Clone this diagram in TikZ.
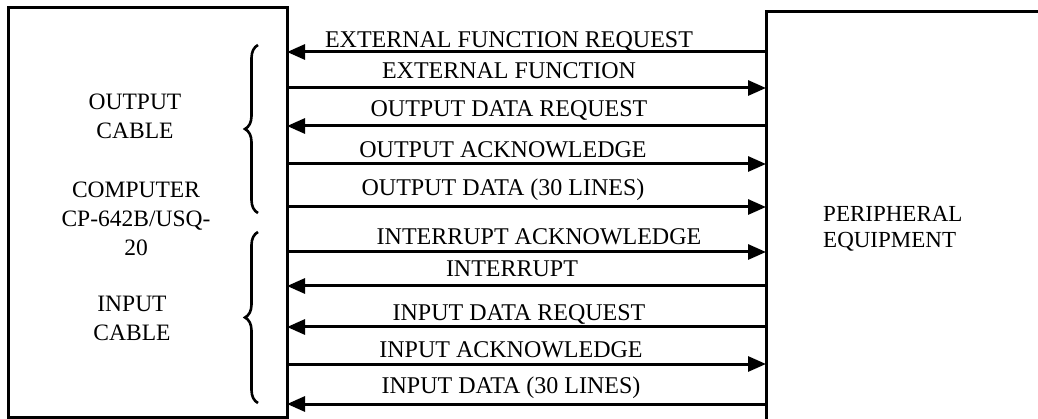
\documentclass[tikz,border=0pt]{standalone}
\usepackage{fontspec}
\setmainfont{Liberation Serif}
\usetikzlibrary{arrows.meta,decorations.pathreplacing}
\begin{document}
\begin{tikzpicture}[x=1pt,y=-1pt,
  box/.style={draw,line width=3pt,outer sep=0pt,inner sep=0pt,anchor=north west},
  sig/.style={line width=3pt},
  tip/.style={-{Triangle[length=18pt,width=15pt]}},
  lbl/.style={font=\fontsize{24}{28}\selectfont,anchor=base,inner sep=0pt},
  txt/.style={font=\fontsize{23.5}{29}\selectfont,align=center,inner sep=0pt},
  cbrace/.style={line width=2.6pt,decorate,decoration={brace,amplitude=13pt}}]
\useasboundingbox (0,0) rectangle (1038,419);
\clip (0,0) rectangle (1038,419);
% boxes
\node[box,minimum width=279pt,minimum height=409pt] (comp) at (8,8) {};
\node[box,minimum width=320pt,minimum height=460pt] (per) at (766,12) {};
% texts in boxes
\node[txt] (outc) at (135,116) {OUTPUT\\CABLE};
\node[txt] (cname) at (136,219) {COMPUTER\\CP-642B/USQ-\\20};
\node[txt] (inc) at (132,318) {INPUT\\CABLE};
\node[txt,align=left,anchor=west,font=\fontsize{23}{26}\selectfont] (pname) at (823,229) {PERIPHERAL\\EQUIPMENT};
% braces
\coordinate (b1t) at (258,45);
\coordinate (b1b) at (258,213);
\coordinate (b2t) at (258,232);
\coordinate (b2b) at (258,403);
\draw[cbrace] (b1b) -- (b1t);
\draw[cbrace] (b2b) -- (b2t);
% signal rows
\foreach \n/\y in {1/52,2/88,3/126,4/164,5/207,6/252,7/286,8/327,9/364,10/404}
  \coordinate (r\n) at (500,\y);
\draw[sig,tip] (r1 -| per.west) -- (r1 -| comp.east);
\draw[sig,tip] (r2 -| comp.east) -- (r2 -| per.west);
\draw[sig,tip] (r3 -| per.west) -- (r3 -| comp.east);
\draw[sig,tip] (r4 -| comp.east) -- (r4 -| per.west);
\draw[sig,tip] (r5 -| comp.east) -- (r5 -| per.west);
\draw[sig,tip] (r6 -| comp.east) -- (r6 -| per.west);
\draw[sig,tip] (r7 -| per.west) -- (r7 -| comp.east);
\draw[sig,tip] (r8 -| per.west) -- (r8 -| comp.east);
\draw[sig,tip] (r9 -| comp.east) -- (r9 -| per.west);
\draw[sig,tip] (r10 -| per.west) -- (r10 -| comp.east);
% labels
\node[lbl] (l1) at (509,48) {EXTERNAL FUNCTION REQUEST};
\node[lbl] (l2) at (509,79) {EXTERNAL FUNCTION};
\node[lbl] (l3) at (509,117) {OUTPUT DATA REQUEST};
\node[lbl] (l4) at (503,158) {OUTPUT ACKNOWLEDGE};
\node[lbl] (l5) at (503,196) {OUTPUT DATA (30 LINES)};
\node[lbl] (l6) at (539,245) {INTERRUPT ACKNOWLEDGE};
\node[lbl] (l7) at (512,277) {INTERRUPT};
\node[lbl] (l8) at (519,320) {INPUT DATA REQUEST};
\node[lbl] (l9) at (511,357) {INPUT ACKNOWLEDGE};
\node[lbl] (l10) at (511,393) {INPUT DATA (30 LINES)};
\end{tikzpicture}
\end{document}
